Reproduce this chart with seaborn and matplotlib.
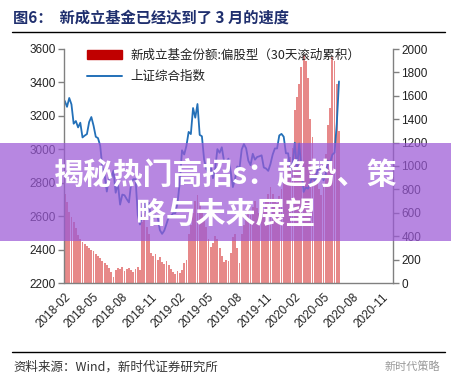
import numpy as np
import pandas as pd
import matplotlib
matplotlib.use('Agg')
import matplotlib.pyplot as plt
import matplotlib.dates as mdates
from matplotlib.patches import Patch, Rectangle
from matplotlib.lines import Line2D
import seaborn as sns

sns.set_style("white")
plt.rcParams['font.family'] = ['Noto Sans CJK SC', 'DejaVu Sans']

# weekly points, 2018-02 .. 2020-06
sse_index = [
    3289, 3254, 3307, 3269, 3153, 3169, 3131, 3159, 3071, 3082,
    3091, 3163, 3193, 3141, 3075, 3067, 3022, 2889, 2847, 2747,
    2831, 2829, 2873, 2740, 2795, 2669, 2729, 2725, 2702, 2682,
    2797, 2821, 2821, 2606, 2550, 2598, 2676, 2599, 2680, 2579,
    2588, 2606, 2594, 2516, 2494,
    2514, 2554, 2596, 2601, 2618, 2618, 2682, 2804, 2994, 2969,
    3021, 3104, 3091, 3247, 3189, 3271, 3086, 3078, 2939, 2882,
    2853, 2898, 2827, 2882, 3001, 2979, 3012, 2930, 2924, 2944,
    2868, 2774, 2823, 2897, 2886, 2999, 3031, 3006, 2932, 2905,
    2973, 2938, 2954, 2958, 2964, 2891, 2885, 2871, 2912, 2968,
    3005, 3005,
    3083, 3092, 3075, 2976, 2976, 2876, 2917, 3039, 2880, 3034,
    2887, 2745, 2772, 2764, 2797, 2839, 2809, 2860, 2895, 2868,
    2814, 2852, 2931, 2920, 2968, 2980, 3152, 3406,
]

fund_shares = [
    760, 690, 610, 560, 520, 470, 410, 380, 350, 330,
    320, 300, 280, 270, 250, 230, 210, 190, 170, 150,
    130, 90, 50, 110, 130, 120, 140, 100, 120, 130,
    110, 95, 120, 135, 110, 520, 600, 480, 420, 260,
    230, 250, 200, 220, 180, 160, 190, 150, 120, 90,
    80, 100, 85, 110, 170, 200, 420, 500, 600, 700,
    750, 680, 620, 560, 480, 380, 310, 340, 400, 380,
    300, 230, 180, 200, 190, 260, 390, 420, 300, 170,
    420, 500, 560, 620, 580, 650, 700, 640, 600, 560,
    620, 700, 760, 820, 760, 700, 680, 740, 800, 880,
    950, 1000, 1080, 1150, 1480, 1590, 1700, 1850, 1950, 1900,
    1750, 1400, 1250, 1050, 900, 800, 750, 850, 1100, 1350,
    1500, 1935, 1900, 1700, 1300,
]

dates = pd.date_range('2018-02-02', periods=len(sse_index), freq='7D')

title = '图6：  新成立基金已经达到了 3 月的速度'
bar_label = '新成立基金份额:偏股型（30天滚动累积）'
line_label = '上证综合指数'
source = '资料来源：Wind，新时代证券研究所'
banner = ['揭秘热门高招s：趋势、策', '略与未来展望']

grey = '#808080'
fig = plt.figure(figsize=(4.52, 3.84), dpi=100)
ax = fig.add_axes([64.5/452, 1-283/384, (393-64.5)/452, (283-49)/384])
ax2 = ax.twinx()

ax2.bar(dates, fund_shares, width=5.8, color='#D83A3A', alpha=0.6, linewidth=0)
sns.lineplot(x=dates, y=sse_index, ax=ax, color='#2370B8', linewidth=1.3)
ax.set_zorder(ax2.get_zorder() + 1)
ax.patch.set_visible(False)

ax.set_ylim(2200, 3600)
ax.set_yticks(range(2200, 3601, 200))
ax2.set_ylim(0, 2000)
ax2.set_yticks(range(0, 2001, 200))
ax.set_xlim(pd.Timestamp('2018-02-01'), pd.Timestamp('2020-12-07'))
ax.xaxis.set_major_locator(mdates.MonthLocator(bymonth=[2, 5, 8, 11]))
ax.xaxis.set_major_formatter(mdates.DateFormatter('%Y-%m'))
ax.set_xlabel('')
ax.set_ylabel('')

for a in (ax, ax2):
    for s in a.spines.values():
        s.set_visible(False)
ax.spines['left'].set_visible(True)
ax.spines['bottom'].set_visible(True)
ax2.spines['right'].set_visible(True)
for s in (ax.spines['left'], ax.spines['bottom'], ax2.spines['right']):
    s.set_color(grey)
    s.set_linewidth(1.0)

ax.tick_params(axis='both', direction='out', length=4, width=1, color=grey,
               labelsize=8.5, labelcolor='#222222', pad=2)
ax2.tick_params(axis='y', direction='out', length=4, width=1, color=grey,
                labelsize=8.5, labelcolor='#222222', pad=2)
for lab in ax.get_xticklabels():
    lab.set_rotation(45)
    lab.set_ha('right')
    lab.set_rotation_mode('anchor')
for lab in ax.get_xticklabels() + ax.get_yticklabels() + ax2.get_yticklabels():
    lab.set_fontfamily('Liberation Sans')

handles = [Patch(color='#C00000'), Line2D([], [], color='#2370B8', linewidth=1.4)]
leg = ax.legend(handles, [bar_label, line_label], loc='upper left',
                bbox_to_anchor=(0.07, 1.0), frameon=False, fontsize=9,
                handlelength=2.8, handletextpad=0.6, labelspacing=0.65,
                borderpad=0, borderaxespad=0)
for t in leg.get_texts():
    t.set_color('#222222')

# header / footer
fig.text(13/452, 1-18/384, title, fontsize=11, fontweight='bold', color='#1F2F6E',
         va='center', ha='left')
fig.add_artist(Line2D([12/452, 445/452], [1-31.5/384]*2, color='black', linewidth=1))
fig.add_artist(Line2D([12/452, 445/452], [1-352/384]*2, color='black', linewidth=1))
fig.text(13/452, 1-367/384, source, fontsize=9, color='#333333', va='center', ha='left')
fig.text(440/452, 1-367/384, '新时代策略', fontsize=8, color='#999999', va='center', ha='right')

# overlay banner
fig.add_artist(Rectangle((0, 1-241/384), 1, 98/384, transform=fig.transFigure,
                         facecolor='#9B59D6', alpha=0.72, edgecolor='none', zorder=10))
fig.text(0.5, 1-175/384, banner[0], fontsize=21.5, fontweight='bold', color='white',
         ha='center', va='center', zorder=11)
fig.text(0.5, 1-214/384, banner[1], fontsize=21.5, fontweight='bold', color='white',
         ha='center', va='center', zorder=11)

fig.savefig('out.png', dpi=100)
